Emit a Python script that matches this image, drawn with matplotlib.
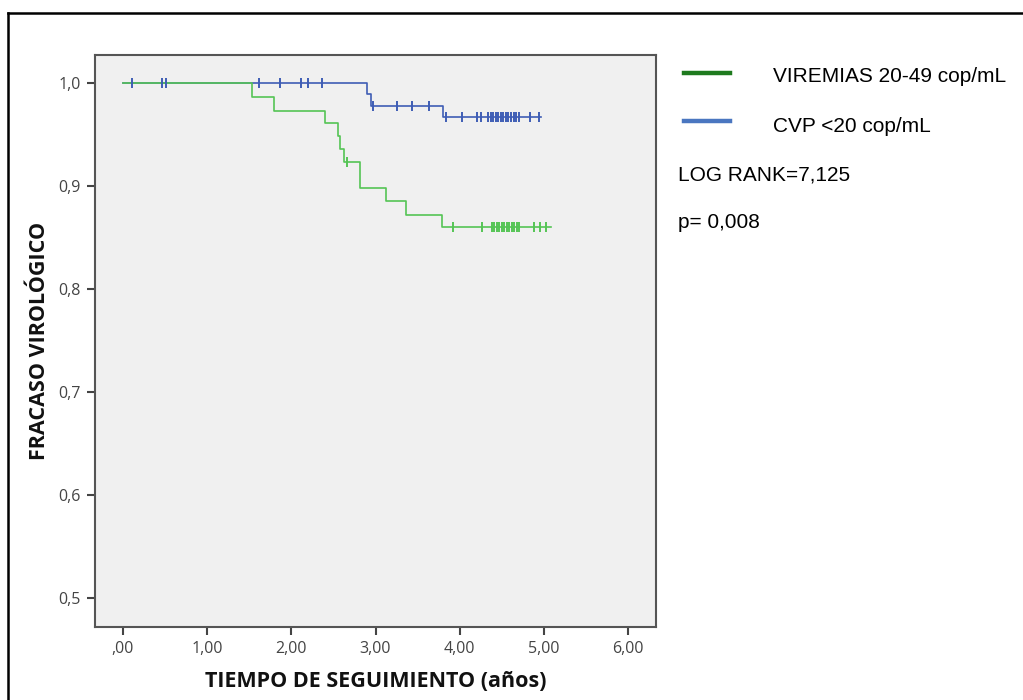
import numpy as np
import matplotlib
matplotlib.use("Agg")
import matplotlib.pyplot as plt
from matplotlib.lines import Line2D

# Kaplan-Meier steps (time in years, survival after each event)
green_label = "VIREMIAS 20-49 cop/mL"
green_times = [1.53, 1.79, 2.40, 2.56, 2.58, 2.62, 2.81, 3.13, 3.36, 3.79]
green_surv = [0.986, 0.973, 0.961, 0.948, 0.936, 0.923, 0.898, 0.885, 0.872, 0.860]
green_end = 5.08
green_censored = [2.66, 3.92, 4.26, 4.38, 4.41, 4.44, 4.47, 4.50, 4.53, 4.56,
                  4.59, 4.62, 4.65, 4.68, 4.71, 4.88, 4.95, 5.03]

blue_label = "CVP <20 cop/mL"
blue_times = [2.90, 2.95, 3.80]
blue_surv = [0.989, 0.978, 0.967]
blue_end = 4.97
blue_censored = [0.11, 0.46, 0.51, 1.61, 1.86, 2.12, 2.20, 2.37, 2.97, 3.25,
                 3.43, 3.63, 3.84, 4.03, 4.21, 4.25, 4.34, 4.37, 4.40, 4.43,
                 4.46, 4.49, 4.52, 4.55, 4.58, 4.61, 4.64, 4.67, 4.71, 4.83, 4.94]

log_rank = "LOG RANK=7,125"
p_value = "p= 0,008"

x_ticks = [0, 1, 2, 3, 4, 5, 6]
x_ticklabels = [",00", "1,00", "2,00", "3,00", "4,00", "5,00", "6,00"]
y_ticks = [0.5, 0.6, 0.7, 0.8, 0.9, 1.0]
y_ticklabels = ["0,5", "0,6", "0,7", "0,8", "0,9", "1,0"]

GREEN = "#55c455"
BLUE = "#3f5db5"


def km_curve(times, surv, end):
    xs = np.concatenate([[0.0], times, [end]])
    ys = np.concatenate([[1.0], surv, [surv[-1]]])
    return xs, ys


def surv_at(t, times, surv):
    idx = np.searchsorted(times, t, side="right")
    return 1.0 if idx == 0 else surv[idx - 1]


W, H = 1023, 700
fig = plt.figure(figsize=(W / 100, H / 100), dpi=100)

# outer frame (top and left edges only are visible)
fig.add_artist(Line2D([8 / W, 8 / W], [0, 1 - 13 / H], color="black", lw=1.8))
fig.add_artist(Line2D([8 / W, 1], [1 - 13 / H, 1 - 13 / H], color="black", lw=1.8))

ax = fig.add_axes([95 / W, 1 - 627 / H, 561 / W, 572 / H])
ax.set_facecolor("#f0f0f0")

bx, by = km_curve(blue_times, blue_surv, blue_end)
gx, gy = km_curve(green_times, green_surv, green_end)
ax.step(bx, by, where="post", color=BLUE, lw=1.2)
ax.step(gx, gy, where="post", color=GREEN, lw=1.2)

ax.plot(green_censored, [surv_at(t, green_times, green_surv) for t in green_censored],
        ls="none", marker="|", ms=7, mew=1.4, color=GREEN)
ax.plot(blue_censored, [surv_at(t, blue_times, blue_surv) for t in blue_censored],
        ls="none", marker="|", ms=7, mew=1.4, color=BLUE)

ax.set_xlim(-0.333, 6.333)
ax.set_ylim(0.472, 1.027)
ax.set_xticks(x_ticks)
ax.set_xticklabels(x_ticklabels)
ax.set_yticks(y_ticks)
ax.set_yticklabels(y_ticklabels)
ax.tick_params(direction="out", length=6, width=1.5, color="#444444",
               labelsize=11.5, labelcolor="#444444", pad=4)
for lbl in ax.get_xticklabels() + ax.get_yticklabels():
    lbl.set_family("Open Sans")
for s in ax.spines.values():
    s.set_color("#555555")
    s.set_linewidth(1.5)

ax.set_xlabel("TIEMPO DE SEGUIMIENTO (años)", fontsize=15.5, fontweight="bold",
              family="Open Sans", color="#111111", labelpad=10)
ax.set_ylabel("FRACASO VIROLÓGICO", fontsize=15.5, fontweight="bold",
              family="Open Sans", color="#111111", labelpad=6)

# legend and test statistics on the right
fig.add_artist(Line2D([684 / W, 730 / W], [1 - 73 / H] * 2, color="#1e7a1e", lw=3.2))
fig.add_artist(Line2D([684 / W, 730 / W], [1 - 121 / H] * 2, color="#4a76c0", lw=3.2))
txt = dict(family="Liberation Sans", fontsize=15, color="black", va="center", ha="left")
fig.text(773 / W, 1 - 77 / H, green_label, **txt)
fig.text(773 / W, 1 - 127 / H, blue_label, **txt)
fig.text(678 / W, 1 - 175 / H, log_rank, **txt)
fig.text(678 / W, 1 - 223 / H, p_value, **txt)

fig.savefig("out.png", dpi=100)
